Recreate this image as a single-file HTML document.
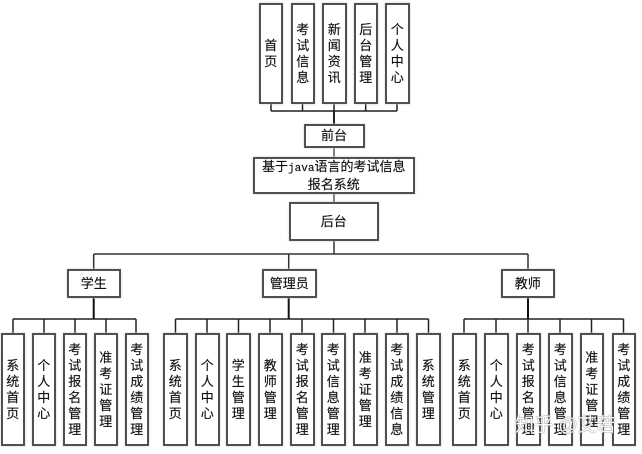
<!DOCTYPE html>
<html lang="zh">
<head>
<meta charset="utf-8">
<title>基于java语言的考试信息报名系统</title>
<style>
html,body{margin:0;padding:0;background:#fff;}
#c{position:relative;width:642px;height:454px;overflow:hidden;background:#fff;font-family:"Liberation Sans","Noto Sans CJK SC",sans-serif;font-size:13px;color:#111;-webkit-text-stroke:.15px #111;}
svg{position:absolute;left:0;top:0;}
.b{position:absolute;box-sizing:border-box;background:#fff;border:2px solid #505050;display:flex;align-items:center;justify-content:center;text-align:center;box-shadow:0 0 2px #ccc;}
.v{top:333px;height:113px;width:24.5px;line-height:16px;}
.t{top:3px;height:101px;width:24.5px;line-height:16px;}
.v span,.t span{display:block;width:13px;}
.h{white-space:nowrap;line-height:15px;}
.m{font-family:"Liberation Mono",monospace;font-size:11px;}
#w{position:absolute;left:515px;top:414px;font-size:19px;line-height:24px;color:#fff;white-space:nowrap;-webkit-text-stroke:0;text-shadow:0 0 1px #666,0 0 1px #666;opacity:.9;}
</style>
</head>
<body>
<div id="c">
<svg width="642" height="454" viewBox="0 0 642 454" fill="none" stroke="#222" stroke-width="1.5">
<path d="M271 104V111M302.5 104V111M334 104V124M365.7 104V111M397 104V111M271 111H397"/>
<path d="M334 111V124" stroke-width="2"/>
<path d="M334 148V157M334 194V202.5" stroke="#555"/>
<path d="M334 240V254M93.7 254H528M93.7 254V269M288.7 254V269M528 254V269" stroke="#333"/>
<path d="M93.7 297V319M288.7 297V319M528 297V319" stroke-width="2" stroke="#111"/>
<path d="M13 319H136M13 319V333M44 319V333M75 319V333M106 319V333M136 319V333"/>
<path d="M175.5 319H428.5M175.5 319V333M207 319V333M238.5 319V333M270 319V333M302 319V333M333.5 319V333M365 319V333M397 319V333M428.5 319V333"/>
<path d="M464 319H623.5M464 319V333M496 319V333M528 319V333M560 319V333M591.5 319V333M623.5 319V333"/>
</svg>

<div class="b t" style="left:258.5px"><span>首页</span></div>
<div class="b t" style="left:290.5px"><span>考试信息</span></div>
<div class="b t" style="left:322px"><span>新闻资讯</span></div>
<div class="b t" style="left:353.5px"><span>后台管理</span></div>
<div class="b t" style="left:385px"><span>个人中心</span></div>

<div class="b h" style="left:303.5px;top:123.5px;width:61px;height:24.5px">前台</div>
<div class="b h" style="left:252.5px;top:156.5px;width:162.5px;height:37.5px"><div>基于<span class="m">java</span>语言的考试信息<br>报名系统</div></div>
<div class="b h" style="left:288.5px;top:202px;width:90.5px;height:38.5px">后台</div>

<div class="b h" style="left:67px;top:269px;width:53.5px;height:28.5px">学生</div>
<div class="b h" style="left:262px;top:269px;width:54.5px;height:28.5px">管理员</div>
<div class="b h" style="left:501px;top:269px;width:53.5px;height:28.5px">教师</div>

<div class="b v" style="left:1px;width:23.5px"><span>系统首页</span></div>
<div class="b v" style="left:32px;width:23.5px"><span>个人中心</span></div>
<div class="b v" style="left:63px;width:23.5px"><span>考试报名管理</span></div>
<div class="b v" style="left:94px;width:23.5px"><span>准考证管理</span></div>
<div class="b v" style="left:125px;width:23.5px"><span>考试成绩管理</span></div>

<div class="b v" style="left:163px"><span>系统首页</span></div>
<div class="b v" style="left:195px"><span>个人中心</span></div>
<div class="b v" style="left:226px"><span>学生管理</span></div>
<div class="b v" style="left:258px"><span>教师管理</span></div>
<div class="b v" style="left:290px"><span>考试报名管理</span></div>
<div class="b v" style="left:321px"><span>考试信息管理</span></div>
<div class="b v" style="left:353px"><span>准考证管理</span></div>
<div class="b v" style="left:384.5px"><span>考试成绩信息</span></div>
<div class="b v" style="left:416px"><span>系统管理</span></div>

<div class="b v" style="left:452px"><span>系统首页</span></div>
<div class="b v" style="left:484px"><span>个人中心</span></div>
<div class="b v" style="left:516px"><span>考试报名管理</span></div>
<div class="b v" style="left:548px"><span>考试信息管理</span></div>
<div class="b v" style="left:579.5px"><span>准考证管理</span></div>
<div class="b v" style="left:611.5px"><span>考试成绩管理</span></div>

<div id="w">知乎 @艾若</div>
</div>
</body>
</html>
